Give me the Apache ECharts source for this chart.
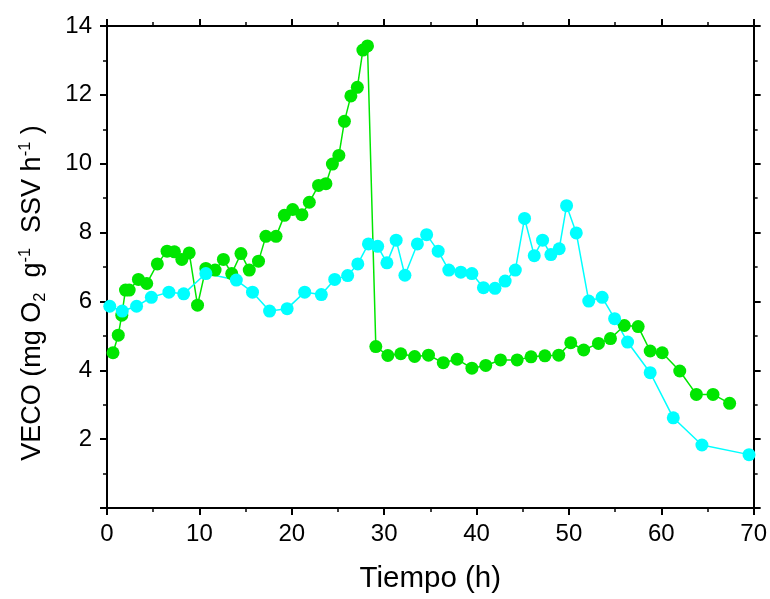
<!DOCTYPE html>
<html>
<head>
<meta charset="utf-8">
<script src="https://cdn.jsdelivr.net/npm/echarts@6/dist/echarts.min.js"></script>
<style>html,body{margin:0;padding:0;background:#fff}#c{width:770px;height:599px}</style>
</head>
<body>
<div id="c"></div>
<script>
// Green series (Tiempo h, VECO)
var greenX = [0.65,1.22,1.6,2.0,2.4,3.4,4.3,5.45,6.5,7.3,8.1,8.9,9.8,10.7,11.7,12.6,13.5,14.5,15.4,16.4,17.2,18.3,19.2,20.1,21.1,21.9,22.9,23.7,24.4,25.1,25.7,26.4,27.1,27.7,28.2,29.1,30.4,31.8,33.3,34.8,36.4,37.9,39.5,41.0,42.6,44.4,45.9,47.4,48.9,50.2,51.6,53.2,54.5,56.0,57.5,58.8,60.1,62.0,63.8,65.6,67.4];
var greenY = [4.51,5.02,5.6,6.33,6.33,6.64,6.52,7.09,7.46,7.44,7.22,7.41,5.89,6.96,6.91,7.22,6.81,7.39,6.91,7.17,7.89,7.89,8.5,8.67,8.52,8.88,9.37,9.42,9.99,10.24,11.23,11.97,12.22,13.30,13.42,4.69,4.43,4.48,4.40,4.44,4.22,4.32,4.06,4.14,4.30,4.30,4.39,4.42,4.44,4.80,4.59,4.78,4.92,5.30,5.27,4.56,4.51,3.98,3.30,3.30,3.04];
// Cyan series
var cyanX = [0.3,1.65,3.2,4.8,6.7,8.3,10.7,14.0,15.75,17.6,19.5,21.4,23.2,24.65,26.05,27.15,28.3,29.3,30.3,31.3,32.25,33.6,34.6,35.85,37.0,38.3,39.5,40.75,42.0,43.1,44.2,45.2,46.25,47.15,48.05,48.95,49.75,50.8,52.15,53.6,54.95,56.35,58.8,61.3,64.4,69.5];
var cyanY = [5.86,5.72,5.86,6.12,6.27,6.22,6.81,6.62,6.27,5.72,5.79,6.27,6.20,6.64,6.75,7.09,7.67,7.60,7.12,7.78,6.76,7.67,7.94,7.46,6.91,6.85,6.81,6.40,6.38,6.59,6.91,8.41,7.33,7.78,7.36,7.53,8.78,7.99,6.01,6.12,5.50,4.82,3.93,2.62,1.83,1.55];

var xTitle = 'Tiempo (h)';
var yTitle = '{t|VECO (mg O}{sub|2}{t|  g}{sup|-1}{t|  SSV h}{sup|-1}{t| )}';

function zip(a, b) { return a.map(function (v, i) { return [v, b[i]]; }); }

var FONT = 'Liberation Sans';
var axisLine = { show: true, onZero: false, lineStyle: { color: '#000', width: 2 } };
var tick = { show: true, inside: false, length: 7, lineStyle: { color: '#000', width: 2 } };
var minor = { show: true, splitNumber: 2, length: 4, lineStyle: { color: '#000', width: 1.5 } };

var chart = echarts.init(document.getElementById('c'), null, { renderer: 'canvas' });
chart.setOption({
  animation: false,
  backgroundColor: '#fff',
  grid: { left: 107, right: 13, top: 26, bottom: 90 },
  xAxis: [{
    type: 'value', min: 0, max: 70, interval: 10, position: 'bottom',
    axisLine: axisLine, axisTick: tick, minorTick: minor, splitLine: { show: false },
    axisLabel: { color: '#000', fontFamily: FONT, fontSize: 24, margin: 14 },
    name: xTitle, nameLocation: 'middle', nameGap: 56,
    nameTextStyle: { color: '#000', fontFamily: FONT, fontSize: 29.5 }
  }, {
    type: 'value', min: 0, max: 70, interval: 10, position: 'top',
    axisLine: axisLine, axisTick: tick, minorTick: minor, splitLine: { show: false },
    axisLabel: { show: false }
  }],
  yAxis: [{
    type: 'value', min: 0, max: 14, interval: 2, position: 'left',
    axisLine: axisLine, axisTick: tick, minorTick: minor, splitLine: { show: false },
    axisLabel: { color: '#000', fontFamily: FONT, fontSize: 24, margin: 15,
      formatter: function (v) { return v === 0 ? '' : String(v); } },
    name: yTitle, nameLocation: 'middle', nameGap: 58, nameRotate: 90,
    nameTextStyle: {
      color: '#000', fontFamily: FONT, fontSize: 27, padding: [0, 52, 0, 0],
      rich: {
        t: { fontFamily: FONT, fontSize: 27, color: '#000', lineHeight: 32, verticalAlign: 'middle' },
        sub: { fontFamily: FONT, fontSize: 16.5, color: '#000', lineHeight: 10, verticalAlign: 'bottom' },
        sup: { fontFamily: FONT, fontSize: 16.5, color: '#000', lineHeight: 16, verticalAlign: 'top' }
      }
    }
  }, {
    type: 'value', min: 0, max: 14, interval: 2, position: 'right',
    axisLine: axisLine, axisTick: tick, minorTick: minor, splitLine: { show: false },
    axisLabel: { show: false }
  }],
  series: [{
    type: 'line', data: zip(greenX, greenY), xAxisIndex: 0, yAxisIndex: 0,
    symbol: 'circle', symbolSize: 13, showAllSymbol: true,
    lineStyle: { color: '#00e600', width: 1.5 },
    itemStyle: { color: '#00e600', borderWidth: 0 }
  }, {
    type: 'line', data: zip(cyanX, cyanY), xAxisIndex: 0, yAxisIndex: 0,
    symbol: 'circle', symbolSize: 13, showAllSymbol: true,
    lineStyle: { color: '#00ffff', width: 1.5 },
    itemStyle: { color: '#00ffff', borderWidth: 0 }
  }]
});
</script>
</body>
</html>
